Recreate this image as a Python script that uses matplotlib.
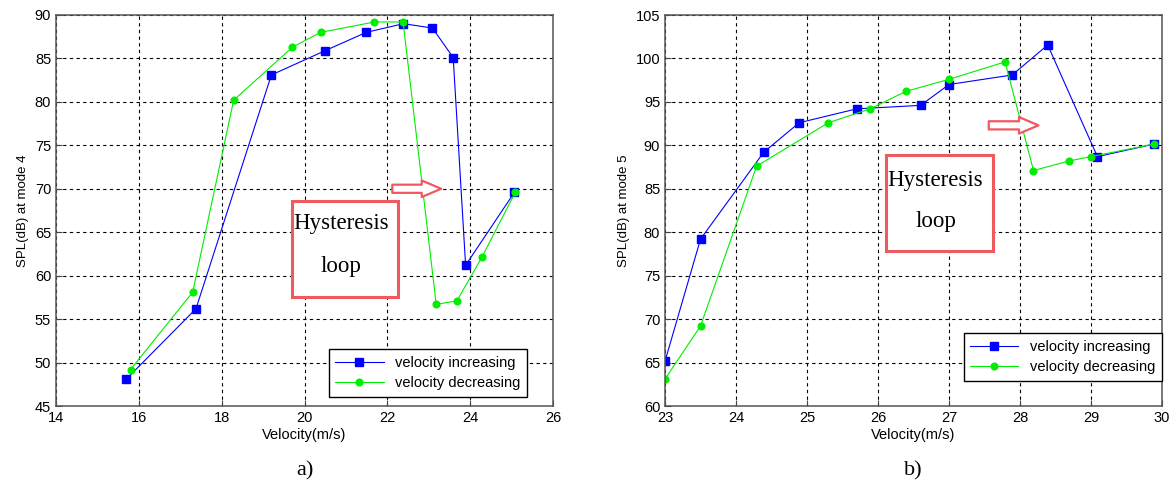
import matplotlib.pyplot as plt
from matplotlib.patches import Rectangle

# panel a) mode 4
v4_inc = [15.70, 17.38, 19.20, 20.50, 21.49, 22.39, 23.09, 23.59, 23.89, 25.07]
spl4_inc = [48.1, 56.2, 83.1, 85.9, 88.0, 89.0, 88.5, 85.1, 61.2, 69.6]
v4_dec = [15.80, 17.30, 18.29, 19.71, 20.39, 21.69, 22.38, 23.18, 23.68, 24.28, 25.09]
spl4_dec = [49.2, 58.1, 80.2, 86.3, 88.0, 89.2, 89.2, 56.7, 57.1, 62.1, 69.6]

# panel b) mode 5
v5_inc = [23.00, 23.50, 24.39, 24.89, 25.70, 26.60, 27.00, 27.89, 28.39, 29.09, 29.89]
spl5_inc = [65.15, 79.2, 89.2, 92.6, 94.2, 94.6, 97.0, 98.1, 101.55, 88.7, 90.15]
v5_dec = [23.00, 23.50, 24.29, 25.30, 25.89, 26.39, 27.00, 27.79, 28.19, 28.69, 29.00, 29.89]
spl5_dec = [63.1, 69.2, 87.6, 92.6, 94.2, 96.2, 97.6, 99.6, 87.1, 88.2, 88.7, 90.15]

RED = "#ee5a60"
SANS = "Liberation Sans"
SERIF = "Liberation Serif"


def draw_panel(ax, v_inc, s_inc, v_dec, s_dec, xlim, xticks, ylim, yticks,
               ylabel, letter, box, arrow, text_pos, legend_anchor):
    ax.plot(v_inc, s_inc, color="#0000ff", lw=0.8, marker="s", ms=5.5,
            label="velocity increasing")
    ax.plot(v_dec, s_dec, color="#00ee00", lw=0.8, marker="o", ms=4.8,
            label="velocity decreasing")

    ax.set_xlim(*xlim)
    ax.set_ylim(*ylim)
    ax.set_xticks(xticks)
    ax.set_yticks(yticks)
    ax.grid(True, color="black", ls=(0, (3, 3)), lw=0.8)
    ax.tick_params(direction="in", length=4, labelsize=10.5, pad=3.5, color="#444444")
    for lab in ax.get_xticklabels() + ax.get_yticklabels():
        lab.set_fontfamily(SANS)
    for sp in ax.spines.values():
        sp.set_color("#555555")
        sp.set_linewidth(1.1)

    ax.set_xlabel("Velocity(m/s)", fontsize=10.5, family=SANS, labelpad=2)
    ax.set_ylabel(ylabel, fontsize=9.5, family=SANS, labelpad=4)
    ax.text(0.5, -0.14, letter, transform=ax.transAxes, ha="center", va="top",
            fontsize=16, family=SERIF)

    # annotation box
    x0, y0, x1, y1 = box
    ax.add_patch(Rectangle((x0, y0), x1 - x0, y1 - y0, fill=True, fc="white",
                           ec=RED, lw=2.2, zorder=4))
    tx, ty1, ty2 = text_pos
    ax.text(tx, ty1, "Hysteresis", ha="center", va="center", fontsize=16.5,
            family=SERIF, zorder=5)
    ax.text(tx, ty2, "loop", ha="center", va="center", fontsize=16.5,
            family=SERIF, zorder=5)

    ax0, ax1, ay = arrow
    ax.annotate("", xy=(ax1, ay), xytext=(ax0, ay), zorder=5,
                arrowprops=dict(arrowstyle="simple,head_length=1.0,head_width=0.85,tail_width=0.42",
                                fc="white", ec=RED, lw=1.6, shrinkA=0, shrinkB=0,
                                mutation_scale=14))

    leg = ax.legend(loc="lower right", bbox_to_anchor=legend_anchor, borderaxespad=0,
                    prop={"family": SANS, "size": 10.5}, fancybox=False,
                    handlelength=3.3, framealpha=1, edgecolor="black",
                    borderpad=0.45, labelspacing=0.45)
    leg.get_frame().set_linewidth(1.0)


fig = plt.figure(figsize=(11.76, 4.86), dpi=100)
ax_a = fig.add_axes([56 / 1176, 80 / 486, 497 / 1176, 391 / 486])
ax_b = fig.add_axes([665 / 1176, 80 / 486, 497 / 1176, 391 / 486])

draw_panel(ax_a, v4_inc, spl4_inc, v4_dec, spl4_dec,
           (14, 26), range(14, 27, 2), (45, 90), range(45, 91, 5),
           "SPL(dB) at mode 4", "a)",
           box=(19.69, 57.6, 22.26, 68.6), arrow=(22.12, 23.30, 70.0),
           text_pos=(20.89, 66.0, 61.1), legend_anchor=(0.948, 0.023))

draw_panel(ax_b, v5_inc, spl5_inc, v5_dec, spl5_dec,
           (23, 30), range(23, 31), (60, 105), range(60, 106, 5),
           "SPL(dB) at mode 5", "b)",
           box=(26.11, 77.8, 27.62, 88.9), arrow=(27.56, 28.26, 92.3),
           text_pos=(26.81, 86.0, 81.2), legend_anchor=(1.0, 0.064))

fig.savefig("out.png", dpi=100)
